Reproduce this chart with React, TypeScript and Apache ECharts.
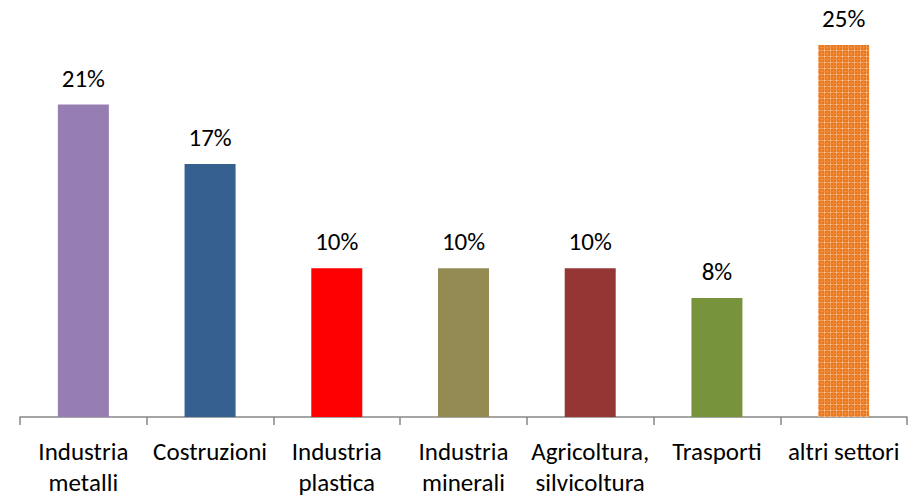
import React, { useEffect, useRef } from "react";
import * as echarts from "echarts";

const categories = [
  "Industria\nmetalli",
  "Costruzioni",
  "Industria\nplastica",
  "Industria\nminerali",
  "Agricoltura,\nsilvicoltura",
  "Trasporti",
  "altri settori",
];
const values = [21, 17, 10, 10, 10, 8, 25];
const barColors = ["#977EB2", "#36608F", "#FF0000", "#948A54", "#943634", "#77933C", "orange-pattern"];

function makePattern(): HTMLCanvasElement {
  const c = document.createElement("canvas");
  c.width = 6;
  c.height = 6;
  const ctx = c.getContext("2d")!;
  ctx.fillStyle = "#E8761A";
  ctx.fillRect(0, 0, 6, 6);
  ctx.fillStyle = "#F3A465";
  ctx.fillRect(0, 2, 6, 1);
  ctx.fillRect(2, 0, 1, 6);
  ctx.fillStyle = "#F8C89C";
  ctx.fillRect(2, 2, 1, 1);
  ctx.fillStyle = "#EE8A3A";
  ctx.fillRect(0, 5, 6, 1);
  ctx.fillRect(5, 0, 1, 6);
  return c;
}

export default function App() {
  const ref = useRef<HTMLDivElement>(null);
  useEffect(() => {
    document.body.style.margin = "0";
    const chart = echarts.init(ref.current!, undefined, { renderer: "svg" });
    const pattern = makePattern();
    const font = "Carlito, Lato, sans-serif";
    chart.setOption({
      animation: false,
      grid: { left: 20, right: 13, top: 45, bottom: 81, containLabel: false },
      xAxis: {
        type: "category",
        data: categories,
        axisLine: { show: true, lineStyle: { color: "#878787", width: 1.5 } },
        axisTick: { show: true, alignWithLabel: false, length: 8, lineStyle: { color: "#878787", width: 1.5 } },
        axisLabel: {
          interval: 0,
          color: "#000",
          fontFamily: font,
          fontSize: 25,
          lineHeight: 31,
          margin: 19,
        },
      },
      yAxis: {
        type: "value",
        min: 0,
        max: 25,
        show: false,
        splitLine: { show: false },
      },
      series: [
        {
          type: "bar",
          barWidth: 51,
          data: values.map((v, i) => ({
            value: v,
            itemStyle: {
              color:
                barColors[i] === "orange-pattern"
                  ? { image: pattern, repeat: "repeat" }
                  : barColors[i],
            },
          })),
          label: {
            show: true,
            position: "top",
            distance: 14,
            formatter: "{c}%",
            color: "#000",
            fontFamily: font,
            fontSize: 25,
          },
        },
      ],
    });
    return () => chart.dispose();
  }, []);
  return <div ref={ref} style={{ width: 920, height: 498 }} />;
}
